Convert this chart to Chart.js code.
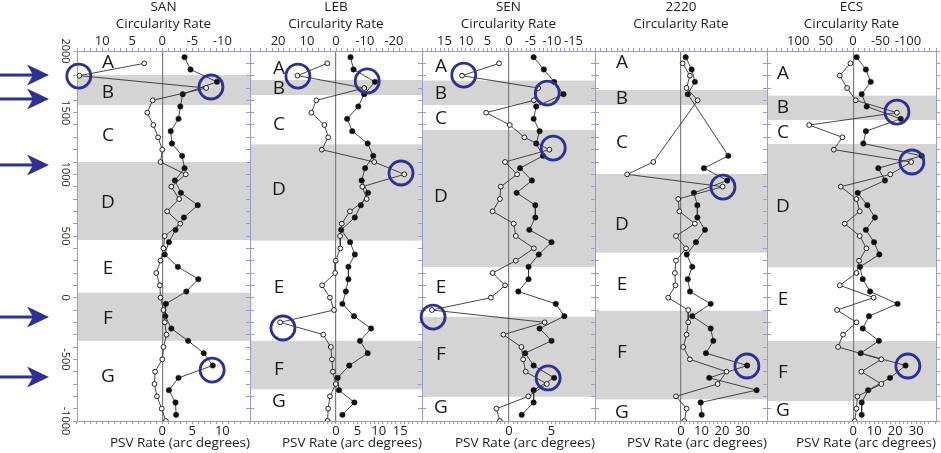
<!DOCTYPE html>
<html>
<head>
<meta charset="utf-8">
<script src="https://cdn.jsdelivr.net/npm/chart.js@4.4.1/dist/chart.umd.min.js"></script>
<style>
  html, body { margin: 0; padding: 0; background: #fff; }
  #wrap { position: relative; width: 941px; height: 453px; overflow: hidden; }
  #wrap canvas { position: absolute; top: 0; }
</style>
</head>
<body>
<div id="wrap"></div>
<script>
// ages of the open (circularity) and filled (PSV) points, years
const openAges = [1900, 1800, 1700, 1600, 1500, 1400, 1300, 1200, 1100, 1000, 900, 800, 700, 600, 500,
  400, 300, 200, 100, 0, -100, -200, -300, -400, -500, -600, -700, -800, -900, -1000];
const filledAges = [1950, 1850, 1750, 1650, 1550, 1450, 1350, 1250, 1150, 1050, 950, 850, 750, 650, 550,
  450, 350, 250, 150, 50, -50, -150, -250, -350, -450, -550, -650, -750, -850, -950];

const sanCirc = [3.0, 13.8, -7.3, 1.6, 2.5, 1.5, 0.7, 0.0, 0.3, -3.9, -1.5, -2.8, -0.8, -3.0, -0.4,
  -0.2, 0.3, 1.0, 0.4, 0.3, -0.2, -0.4, -0.7, -0.2, 0.0, 1.2, 1.3, 0.9, 0.1, -0.6];
const sanPsv = [3.7, 4.7, 9.1, 3.4, 3.0, 2.7, 1.4, 1.6, 3.3, 3.7, 2.1, 3.1, 5.9, 3.6, 2.2,
  1.1, 0.4, 2.6, 6.0, 4.0, 0.6, 0.5, 1.5, 4.3, 6.9, 8.4, 2.7, 1.1, 2.2, 2.3];

const lebCirc = [3.0, 13.3, -9.8, 6.8, 8.5, 4.0, 2.7, 4.9, -13.2, -23.6, -9.1, -10.6, -4.8, -2.0, -1.4,
  -1.5, 0.1, 0.3, 4.8, 2.1, 0.7, 19.3, 4.4, 1.8, 1.4, 1.1, 0.1, 2.1, 2.7, 2.9];
const lebPsv = [3.4, 4.1, 9.1, 6.6, 5.2, 2.6, 3.8, 7.4, 8.7, 6.8, 6.0, 7.5, 5.8, 4.4, 1.2,
  3.3, 4.4, 2.9, 2.9, 2.3, 1.5, 4.2, 8.2, 5.6, 7.4, 3.1, 0.4, 0.7, 4.3, 1.5];

const senCirc = [2.3, 10.9, -6.8, -5.8, 5.3, -0.2, -3.6, -9.4, 0.9, -1.9, 1.9, 2.1, 3.8, -1.1, -1.6,
  -5.8, -1.6, 3.8, 0.9, 4.2, 17.9, -8.3, 1.3, -2.9, -3.3, -3.9, -8.8, -4.5, 2.9, 2.1];
const senPsv = [2.9, 4.1, 5.3, 6.4, 3.2, 2.9, 3.6, 3.2, 4.0, 1.3, 2.7, 0.9, 3.1, 3.1, 2.4,
  5.0, 3.5, 2.3, 2.3, 1.1, 5.5, 6.5, 3.6, 5.0, 1.9, 2.9, 5.3, 2.9, 2.9, 1.5];

const c2220Circ = [-3, -16, -10, -30, null, null, null, null, 50, 97, -75, 5, 3, -25, 9,
  -9, 9, 11, 10, 23, -13, -13, -10, -4, -16, -82, -66, 9, -10, -6];
const c2220Psv = [2.3, 5.2, 6.8, 3.3, null, null, null, null, 23.1, 11.2, 22.6, 6.3, 8.0, 8.0, 11.7,
  7.3, 2.8, 5.5, 3.3, 4.4, 14.5, 5.5, 14.5, 15.8, 12.2, 32.3, 13.8, 36.9, 9.6, 10.1];

const ecsCirc = [4.8, 24.2, 10.9, -4.9, -80, 80, 19.3, 35.1, -106, -68, 22.4, -6.2, -12.2, 15.1, -12.2,
  -24.4, -11, -6.2, 24.2, -37.6, 29.1, -6.2, 18.2, 27.3, -51.6, -15.2, -51.6, -8, -6.2, -3.1];
const ecsPsv = [1.6, 6.0, 8.3, 4.0, 6.4, 22.6, 6.0, 4.8, 32.6, 11.9, 15.1, 2.1, 6.7, 10.3, 6.0,
  9.9, 12.4, 3.2, 4.5, 8.0, 21.1, 7.5, 4.5, 12.2, 3.5, 24.9, 17.5, 7.1, 4.0, 4.0];

// shaded intervals B, D, F (age from, age to)
const sanBands = [[1805, 1562], [1100, 467], [40, -350]];
const lebBands = [[1765, 1643], [1243, 462], [-350, -743]];
const senBands = [[1760, 1562], [1360, 250], [-155, -803]];
const c2220Bands = [[1684, 1562], [1003, 365], [-106, -824]];
const ecsBands = [[1638, 1440], [1246, 246], [-352, -838]];

const intervalNames = ['A', 'B', 'C', 'D', 'E', 'F', 'G'];
const sanNameAges = [1903, 1659, 1311, 768, 232, -173, -643];
const lebNameAges = [1854, 1692, 1400, 873, 78, -587, -846];
const senNameAges = [1870, 1651, 1449, 816, 78, -465, -895];
const c2220NameAges = [1903, 1611, 1254, 589, 103, -449, -935];
const ecsNameAges = [1814, 1538, 1335, 735, -19, -611, -919];

// highlighted spots (PSV value, age)
const sanRings = [[-13.9, 1797], [8.1, 1708], [8.3, -587]];
const lebRings = [[-8.9, 1797], [7.3, 1757], [15.2, 1011], [-12.4, -246]];
const senRings = [[-5.3, 1805], [4.5, 1659], [5.2, 1213], [-8.9, -157], [4.6, -651]];
const c2220Rings = [[20.5, 897], [32.2, -554]];
const ecsRings = [[20.8, 1505], [27.9, 1100], [26, -554]];

const arrowAges = [1805, 1611, 1076, -157, -643];

// tick labels
const ageLabels = [2000, 1500, 1000, 500, 0, -500, -1000];
const sanTopLabels = [10, 5, 0, -5, -10];
const sanBottomLabels = [0, 5, 10];
const lebTopLabels = [20, 10, 0, -10, -20];
const lebBottomLabels = [0, 5, 10, 15];
const senTopLabels = [15, 10, 5, 0, -5, -10, -15];
const senBottomLabels = [0, 5];
const bigTopLabels = [100, 50, 0, -50, -100];
const bigBottomLabels = [0, 10, 20, 30];

const FONT = '"Open Sans", "DejaVu Sans", sans-serif';
const FRAME = '#979bd2';
const RING = '#2d3192';
const TOP = 51, BOTTOM = 421, H = 453;

const panels = [
  { name: 'SAN', left: 77, right: 250, circ: sanCirc, psv: sanPsv, bands: sanBands, nameAges: sanNameAges, nameX: 31, rings: sanRings,
    top: [-14.6, 14.2, 1, sanTopLabels], bottom: [-14.2, 14.6, 1, sanBottomLabels] },
  { name: 'LEB', left: 250, right: 422, circ: lebCirc, psv: lebPsv, bands: lebBands, nameAges: lebNameAges, nameX: 29, rings: lebRings,
    top: [-29.7, 29.7, 2, lebTopLabels], bottom: [-20.1, 20.1, 1, lebBottomLabels] },
  { name: 'SEN', left: 422, right: 595, circ: senCirc, psv: senPsv, bands: senBands, nameAges: senNameAges, nameX: 19, rings: senRings,
    top: [-20.0, 20.2, 1, senTopLabels], bottom: [-10.2, 10.1, 0.5, senBottomLabels] },
  { name: '2220', left: 595, right: 767, circ: c2220Circ, psv: c2220Psv, bands: c2220Bands, nameAges: c2220NameAges, nameX: 27, rings: c2220Rings,
    top: [-155, 155, 10, bigTopLabels], bottom: [-42, 42, 2, bigBottomLabels] },
  { name: 'ECS', left: 767, right: 937, circ: ecsCirc, psv: ecsPsv, bands: ecsBands, nameAges: ecsNameAges, nameX: 16, rings: ecsRings,
    top: [-151.3, 156.9, 10, bigTopLabels], bottom: [-41.1, 39.4, 2, bigBottomLabels] }
];

function tickText(list, v) {
  return list.some(l => Math.abs(l - v) < 1e-6) ? String(Math.round(v)) : '';
}

function drawArrow(ctx, y) {
  ctx.fillRect(0, y - 1.5, 35, 3);
  ctx.beginPath();
  ctx.moveTo(49, y);
  ctx.lineTo(27, y - 10.5);
  ctx.lineTo(33, y);
  ctx.lineTo(27, y + 10.5);
  ctx.closePath();
  ctx.fill();
}

function makePanel(p, i) {
  const leftW = i === 0 ? p.left : 6;
  const rightW = Math.min(5, 941 - p.right);
  const canvas = document.createElement('canvas');
  canvas.width = p.right - p.left + leftW + rightW;
  canvas.height = H;
  canvas.style.left = (p.left - leftW) + 'px';
  document.getElementById('wrap').appendChild(canvas);

  const marks = {
    id: 'marks' + i,
    beforeDraw(chart) {
      const { ctx, chartArea: a, scales: { y } } = chart;
      ctx.save();
      ctx.fillStyle = '#d4d4d4';
      p.bands.forEach(([from, to]) => {
        const y1 = y.getPixelForValue(from), y2 = y.getPixelForValue(to);
        ctx.fillRect(a.left, y1, a.right - a.left, y2 - y1);
      });
      ctx.restore();
    },
    afterDatasetsDraw(chart) {
      const { ctx, chartArea: a, scales: { y, xb } } = chart;
      ctx.save();
      ctx.fillStyle = '#1a1a1a';
      ctx.font = '19px ' + FONT;
      ctx.textAlign = 'center';
      ctx.textBaseline = 'middle';
      intervalNames.forEach((n, k) => ctx.fillText(n, a.left + p.nameX, y.getPixelForValue(p.nameAges[k])));
      ctx.strokeStyle = RING;
      ctx.lineWidth = 2.8;
      p.rings.forEach(([v, age]) => {
        ctx.beginPath();
        ctx.arc(xb.getPixelForValue(v), y.getPixelForValue(age), 12, 0, Math.PI * 2);
        ctx.stroke();
      });
      ctx.restore();
    },
    afterDraw(chart) {
      if (i !== 0) return;
      const { ctx, scales: { y } } = chart;
      ctx.save();
      ctx.fillStyle = RING;
      arrowAges.forEach(age => drawArrow(ctx, y.getPixelForValue(age)));
      ctx.restore();
    }
  };

  const line = { showLine: true, spanGaps: true, borderColor: '#333', borderWidth: 0.9 };

  new Chart(canvas, {
    type: 'scatter',
    data: {
      datasets: [
        Object.assign({
          data: openAges.map((age, k) => ({ x: p.circ[k], y: age })),
          xAxisID: 'xt', yAxisID: 'y',
          pointRadius: 2.4, pointBackgroundColor: '#fff', pointBorderColor: '#1e1e1e', pointBorderWidth: 1
        }, line),
        Object.assign({
          data: filledAges.map((age, k) => ({ x: p.psv[k], y: age })),
          xAxisID: 'xb', yAxisID: 'y',
          pointRadius: 2.7, pointBackgroundColor: '#111', pointBorderColor: '#111', pointBorderWidth: 0.5
        }, line)
      ]
    },
    options: {
      responsive: false,
      animation: false,
      events: [],
      layout: { padding: 0 },
      plugins: { legend: { display: false }, tooltip: { enabled: false } },
      scales: {
        xt: {
          type: 'linear', position: 'top', reverse: true,
          min: p.top[0], max: p.top[1],
          ticks: {
            stepSize: p.top[2], autoSkip: false, maxRotation: 0, padding: 0,
            color: '#1e1e1e', font: { family: FONT, size: 13, lineHeight: 1.1 },
            callback: v => tickText(p.top[3], v)
          },
          grid: { drawOnChartArea: false, tickLength: 3, tickColor: FRAME },
          border: { color: FRAME, width: 1 },
          title: {
            display: true, text: [p.name, 'Circularity Rate'], color: '#1e1e1e',
            font: { family: FONT, size: 13.5, lineHeight: 1.25 }, padding: { top: -1, bottom: 0 }
          },
          afterFit: s => { s.height = TOP; }
        },
        xb: {
          type: 'linear', position: 'bottom',
          min: p.bottom[0], max: p.bottom[1],
          ticks: {
            stepSize: p.bottom[2], autoSkip: false, maxRotation: 0, padding: 0,
            color: '#1e1e1e', font: { family: FONT, size: 13, lineHeight: 1.1 },
            callback: v => tickText(p.bottom[3], v)
          },
          grid: {
            tickLength: 3, tickColor: FRAME, lineWidth: 1.2,
            color: c => (c.tick && Math.abs(c.tick.value) < 1e-9 ? '#7d7d7d' : 'rgba(0,0,0,0)')
          },
          border: { color: FRAME, width: 1 },
          title: {
            display: true, text: 'PSV Rate (arc degrees)', align: 'end', color: '#1e1e1e',
            font: { family: FONT, size: 13.5 }, padding: { top: 0, bottom: 2 }
          },
          afterFit: s => { s.height = H - BOTTOM; }
        },
        y: {
          type: 'linear', position: 'left', min: -1000, max: 2000,
          ticks: {
            display: i === 0, stepSize: 100, autoSkip: false,
            minRotation: -90, maxRotation: -90, crossAlign: 'center', padding: -6,
            color: '#1e1e1e', font: { family: FONT, size: 11 },
            callback: v => tickText(ageLabels, v)
          },
          grid: { drawOnChartArea: false, tickLength: 4, tickColor: FRAME },
          border: { color: FRAME, width: 1 },
          afterFit: s => { s.width = leftW; }
        },
        yr: {
          type: 'linear', axis: 'y', position: 'right', min: -1000, max: 2000,
          ticks: { display: false, stepSize: 100, autoSkip: false },
          grid: { drawOnChartArea: false, tickLength: 4, tickColor: FRAME },
          border: { color: FRAME, width: 1 },
          afterFit: s => { s.width = rightW; }
        }
      }
    },
    plugins: [marks]
  });
}

function build() {
  panels.forEach(makePanel);
}

if (document.fonts && document.fonts.load) {
  Promise.all([document.fonts.load('13px "Open Sans"'), document.fonts.load('19px "Open Sans"')])
    .then(build, build);
} else {
  build();
}
</script>
</body>
</html>
